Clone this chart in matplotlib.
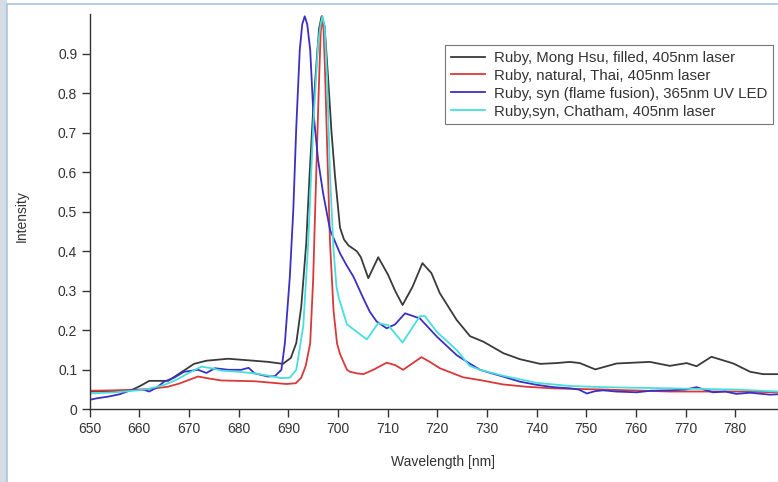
import matplotlib.pyplot as plt
from matplotlib.patches import Rectangle

plt.rcParams["font.family"] = ["Liberation Sans", "DejaVu Sans"]

# ---- spectra ----
mong_hsu_wl = [650, 655, 658.3, 660, 662, 665.8, 668, 671, 673.5, 677.9, 682, 686, 688.9,
               690.5, 691.6, 692.6, 693.6, 694.3, 695.0, 695.8, 696.2, 696.7, 697.3, 698.0,
               698.7, 699.4, 700.4, 701.2, 702.1, 703.8, 704.6, 706.1, 708.1, 710.1, 711.5,
               713.0, 715, 717.0, 718.8, 720.5, 723.9, 726.6, 729.3, 733.3, 736.6, 740.7,
               744, 746.7, 748.7, 751.8, 756.1, 762.8, 766.8, 770.2, 772.2, 775.2, 779.6,
               783, 785.6, 788.6]
mong_hsu = [0.045, 0.046, 0.048, 0.058, 0.072, 0.072, 0.09, 0.115, 0.123, 0.128, 0.124,
            0.12, 0.115, 0.13, 0.168, 0.26, 0.42, 0.6, 0.758, 0.9, 0.965, 0.995, 0.97,
            0.84, 0.7, 0.59, 0.46, 0.43, 0.415, 0.40, 0.385, 0.332, 0.385, 0.34, 0.30,
            0.264, 0.31, 0.37, 0.345, 0.294, 0.226, 0.185, 0.171, 0.142, 0.127, 0.115,
            0.117, 0.12, 0.117, 0.101, 0.116, 0.12, 0.11, 0.117, 0.109, 0.133, 0.116,
            0.095, 0.089, 0.089]

thai_wl = [650, 655, 660, 663, 665.7, 668, 671.8, 674, 676.5, 680, 683.2, 686, 689.6,
           691.5, 692.6, 693.5, 694.4, 695.0, 695.4, 696.1, 696.5, 696.8, 697.1, 697.4,
           697.8, 698.4, 699.1, 699.8, 700.4, 701.8, 702.4, 703.8, 705.1, 707.1, 709.8,
           711.5, 713.1, 716.8, 718.5, 720.5, 725.2, 728.6, 733.2, 738, 743.4, 753.4,
           766.8, 781.5, 788.6]
thai = [0.047, 0.048, 0.05, 0.053, 0.057, 0.065, 0.083, 0.078, 0.073, 0.072, 0.071, 0.068,
        0.064, 0.066, 0.08, 0.11, 0.167, 0.33, 0.505, 0.80, 0.95, 0.995, 0.96, 0.85, 0.67,
        0.42, 0.25, 0.167, 0.14, 0.10, 0.095, 0.091, 0.089, 0.10, 0.118, 0.112, 0.10,
        0.132, 0.12, 0.104, 0.081, 0.074, 0.063, 0.057, 0.053, 0.05, 0.045, 0.045, 0.043]

flame_wl = [650, 651.5, 653.7, 656, 658.4, 661, 662, 663.5, 665, 667, 669, 671.8, 673.5,
            675.2, 677.9, 680.5, 682, 683.2, 685.9, 687.3, 688.6, 689.3, 690.3, 691.0,
            691.6, 692.3, 692.8, 693.3, 693.8, 694.4, 695.0, 696.0, 697.0, 698.4, 700.4,
            701.7, 703.1, 705.1, 706.4, 707.8, 709.8, 711.5, 713.5, 716.5, 719.9, 723.9,
            726.5, 728.6, 729.9, 733.2, 736.6, 740, 743.4, 746.7, 748.5, 750.1, 751.8,
            753.4, 756, 760.1, 763, 766.8, 770, 772.2, 775.5, 778, 780.2, 783, 787, 788.6]
flame = [0.024, 0.028, 0.032, 0.038, 0.049, 0.049, 0.045, 0.055, 0.07, 0.08, 0.095, 0.10,
         0.092, 0.104, 0.10, 0.10, 0.105, 0.091, 0.083, 0.084, 0.10, 0.167, 0.336, 0.505,
         0.715, 0.91, 0.975, 0.995, 0.975, 0.91, 0.758, 0.63, 0.547, 0.454, 0.395, 0.365,
         0.336, 0.281, 0.247, 0.222, 0.205, 0.215, 0.243, 0.23, 0.184, 0.137, 0.116, 0.10,
         0.095, 0.083, 0.07, 0.062, 0.056, 0.053, 0.05, 0.04, 0.046, 0.048, 0.045, 0.043,
         0.047, 0.048, 0.05, 0.056, 0.043, 0.045, 0.039, 0.042, 0.037, 0.038]

chatham_wl = [650, 655, 659.7, 662, 665.1, 667.5, 669.8, 672.5, 674.5, 676.5, 680, 683.2,
              686, 688.6, 690.3, 691.6, 693.0, 694.0, 695.0, 696.0, 696.5, 696.9, 697.3,
              697.8, 698.4, 699.1, 699.7, 700.1, 701.8, 703.8, 705.8, 708.1, 710.1, 713.0,
              716.5, 717.5, 719.9, 723.9, 726.5, 728.6, 733.2, 740, 746.7, 753.4, 766.8,
              780.2, 788.6]
chatham = [0.04, 0.043, 0.048, 0.052, 0.062, 0.075, 0.091, 0.108, 0.104, 0.098, 0.095,
           0.091, 0.085, 0.079, 0.08, 0.10, 0.21, 0.42, 0.715, 0.927, 0.975, 0.995, 0.97,
           0.84, 0.59, 0.403, 0.31, 0.285, 0.215, 0.196, 0.177, 0.218, 0.213, 0.169, 0.236,
           0.236, 0.196, 0.15, 0.11, 0.10, 0.085, 0.067, 0.059, 0.056, 0.053, 0.05, 0.045]

labels = ["Ruby, Mong Hsu, filled, 405nm laser",
          "Ruby, natural, Thai, 405nm laser",
          "Ruby, syn (flame fusion), 365nm UV LED",
          "Ruby,syn, Chatham, 405nm laser"]
colors = ["#3a3a3a", "#d9393a", "#3a30c4", "#48dede"]

x_ticks = list(range(650, 790, 10))
y_ticks = [0, 0.1, 0.2, 0.3, 0.4, 0.5, 0.6, 0.7, 0.8, 0.9]
y_tick_labels = ["0", "0.1", "0.2", "0.3", "0.4", "0.5", "0.6", "0.7", "0.8", "0.9"]

fig = plt.figure(figsize=(7.78, 4.82), dpi=100)

# slide frame: grey strip on the left and a thin blue border
fig.patches.append(Rectangle((0, 0), 7 / 778, 1, transform=fig.transFigure,
                             facecolor="#d6dce3", edgecolor="none", zorder=0))
fig.patches.append(Rectangle((7 / 778, -0.05), 1.0, 1 - 4 / 482 + 0.05,
                             transform=fig.transFigure, facecolor="none",
                             edgecolor="#a9c3de", lw=1.2, zorder=0))

ax = fig.add_axes([89.7 / 778, 72.7 / 482, 1 - 89.7 / 778, 395 / 482])

series = [(mong_hsu_wl, mong_hsu), (thai_wl, thai), (flame_wl, flame), (chatham_wl, chatham)]
for (wl, val), lab, c in zip(series, labels, colors):
    ax.plot(wl, val, color=c, lw=1.3, label=lab)

ax.set_xlim(650, 788.6)
ax.set_ylim(0, 1.0)
ax.set_xticks(x_ticks)
ax.set_yticks(y_ticks)
ax.set_yticklabels(y_tick_labels)
ax.tick_params(direction="out", length=6, width=1, colors="#333333", labelsize=10, pad=3)

for s in ["top", "right"]:
    ax.spines[s].set_visible(False)
for s in ["left", "bottom"]:
    ax.spines[s].set_color("#333333")
    ax.spines[s].set_linewidth(1)

ax.set_xlabel("Wavelength [nm]", fontsize=10, color="#333333")
ax.xaxis.set_label_coords(0.513, -0.116)
ax.set_ylabel("Intensity", fontsize=10, color="#333333")
ax.yaxis.set_label_coords(-0.088, 0.49)

leg = ax.legend(loc="upper right", bbox_to_anchor=(0.993, 0.922), fontsize=10.8,
                frameon=True, fancybox=False, framealpha=1, edgecolor="#777777",
                labelspacing=0.26, handlelength=2.3, handletextpad=0.6,
                borderpad=0.38, borderaxespad=0)
leg.get_frame().set_linewidth(0.8)
for t in leg.get_texts():
    t.set_color("#333333")

fig.savefig("out.png", dpi=100)
